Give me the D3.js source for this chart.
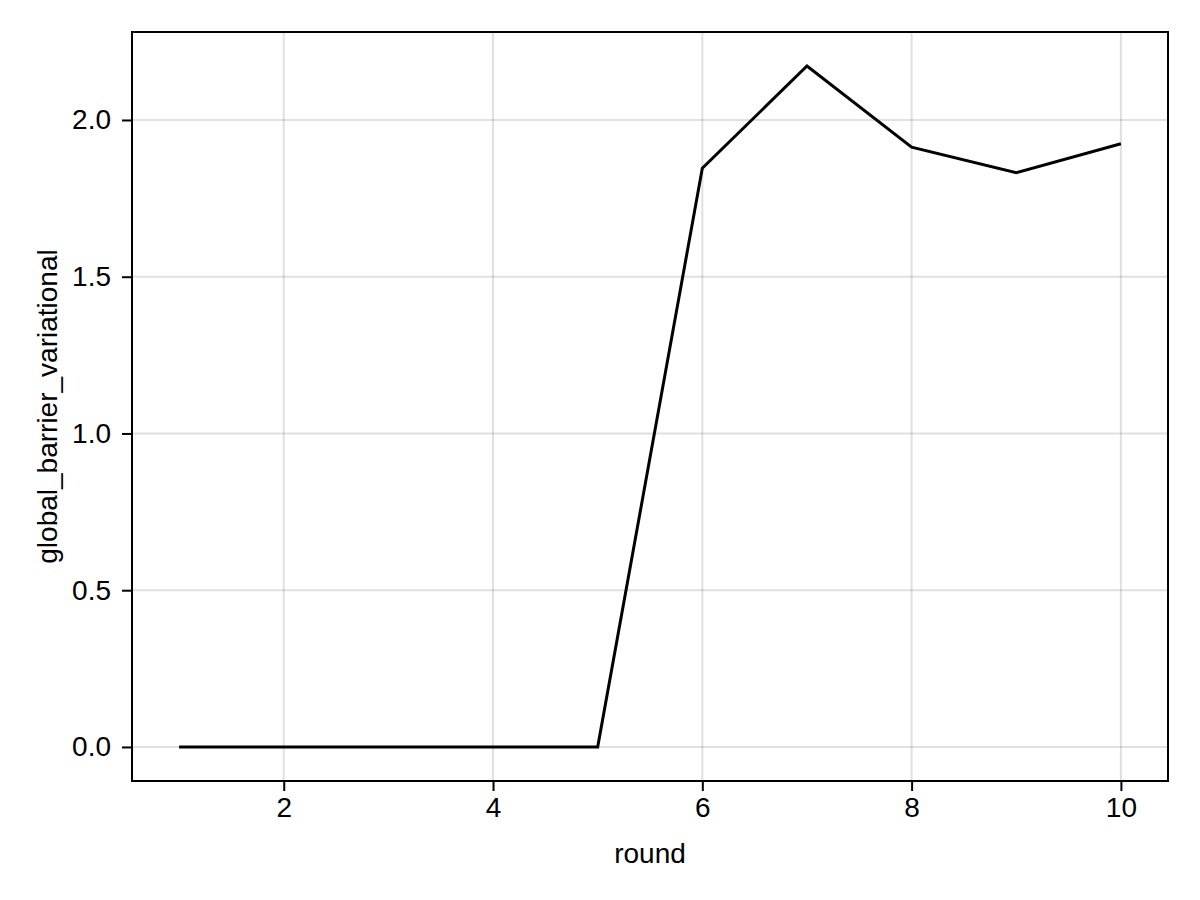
<!DOCTYPE html>
<html>
<head>
<meta charset="utf-8">
<script src="https://cdn.jsdelivr.net/npm/d3@7"></script>
<style>
  html, body { margin: 0; padding: 0; background: #fff; }
  svg { display: block; }
  text { font-family: "Liberation Sans", Arial, sans-serif; fill: #000; }
</style>
</head>
<body>
<svg id="chart" width="1200" height="900"></svg>
<script>
const rounds = [1, 2, 3, 4, 5, 6, 7, 8, 9, 10];
const values = [0, 0, 0, 0, 0, 1.846, 2.172, 1.913, 1.832, 1.924];
const xTicks = [2, 4, 6, 8, 10];
const yTicks = [0.0, 0.5, 1.0, 1.5, 2.0];
const xLabel = "round";
const yLabel = "global_barrier_variational";

const W = 1200, H = 900;
const plot = { left: 132, right: 1168, top: 32, bottom: 781 };
const fs = 28;

const svg = d3.select("#chart");

const xMin = d3.min(rounds), xMax = d3.max(rounds);
const xPad = (xMax - xMin) * 0.05;
const yMin = d3.min(values), yMax = d3.max(values);
const yPad = (yMax - yMin) * 0.05;

const x = d3.scaleLinear().domain([xMin - xPad, xMax + xPad]).range([plot.left, plot.right]);
const y = d3.scaleLinear().domain([yMin - yPad, yMax + yPad]).range([plot.bottom, plot.top]);

// grid
const grid = svg.append("g").attr("stroke", "rgba(0,0,0,0.12)").attr("stroke-width", 2);
grid.selectAll(".gx").data(xTicks).join("line")
  .attr("x1", d => x(d)).attr("x2", d => x(d))
  .attr("y1", plot.top).attr("y2", plot.bottom);
grid.selectAll(".gy").data(yTicks).join("line")
  .attr("y1", d => y(d)).attr("y2", d => y(d))
  .attr("x1", plot.left).attr("x2", plot.right);

// line
const line = d3.line().x((d, i) => x(rounds[i])).y(d => y(d));
svg.append("path").datum(values)
  .attr("d", line)
  .attr("fill", "none")
  .attr("stroke", "#000")
  .attr("stroke-width", 3)
  .attr("stroke-linejoin", "miter");

// axes
const xAxis = d3.axisBottom(x).tickValues(xTicks).tickSize(10).tickPadding(6).tickFormat(d3.format("d"));
const yAxis = d3.axisLeft(y).tickValues(yTicks).tickSize(10).tickPadding(11).tickFormat(d3.format(".1f"));

const gx = svg.append("g").attr("transform", `translate(0,${plot.bottom})`).call(xAxis);
const gy = svg.append("g").attr("transform", `translate(${plot.left},0)`).call(yAxis);
[gx, gy].forEach(g => {
  g.select(".domain").remove();
  g.selectAll(".tick line").attr("stroke", "#000").attr("stroke-width", 2);
  g.selectAll(".tick text").attr("font-size", fs).attr("font-family", "Liberation Sans, Arial, sans-serif").attr("fill", "#000");
});

// frame
svg.append("rect")
  .attr("x", plot.left).attr("y", plot.top)
  .attr("width", plot.right - plot.left).attr("height", plot.bottom - plot.top)
  .attr("fill", "none").attr("stroke", "#000").attr("stroke-width", 2);

// labels
svg.append("text")
  .attr("x", (plot.left + plot.right) / 2).attr("y", 863)
  .attr("text-anchor", "middle").attr("font-size", fs)
  .text(xLabel);
svg.append("text")
  .attr("transform", `translate(57,${(plot.top + plot.bottom) / 2}) rotate(-90)`)
  .attr("text-anchor", "middle").attr("font-size", fs)
  .text(yLabel);
</script>
</body>
</html>
